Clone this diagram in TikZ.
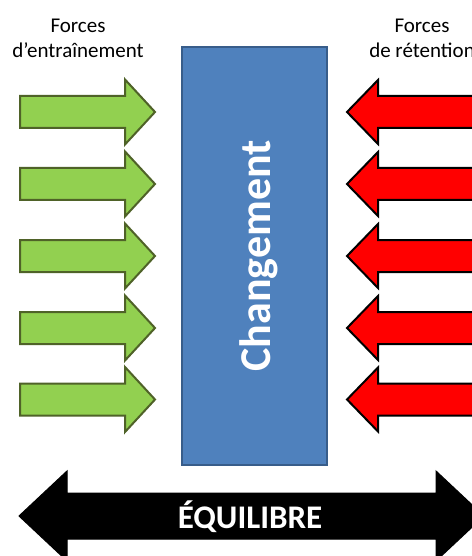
\documentclass[tikz,border=0pt]{standalone}
\usepackage{fontspec}
\setmainfont{Carlito}
\definecolor{pushfill}{HTML}{92D050}
\definecolor{pushline}{HTML}{4F6228}
\definecolor{holdfill}{HTML}{FF0000}
\definecolor{boxfill}{HTML}{4F81BD}
\definecolor{boxline}{HTML}{385D8A}
\tikzset{
  pusharrow/.style={fill=pushfill, draw=pushline, line width=2bp, line join=miter},
  holdarrow/.style={fill=holdfill, draw=black, line width=2bp, line join=miter},
  balancearrow/.style={fill=black, draw=black, line width=1bp},
  changebox/.style={fill=boxfill, draw=boxline, line width=1.5bp, minimum width=145bp, minimum height=418bp, inner sep=0pt},
  caption/.style={font=\fontsize{21bp}{25bp}\selectfont, anchor=base, inner sep=0pt},
}
\begin{document}
\begin{tikzpicture}[x=1bp, y=-1bp]
  \useasboundingbox (0,0) rectangle (472,556);
  \clip (0,0) rectangle (472,556);
  \fill[white] (0,0) rectangle (472,556);

  % central block
  \node[changebox] (change) at (254.5,256) {};
  \node[rotate=90, anchor=base, inner sep=0pt, text=white,
        font=\fontsize{44bp}{50bp}\selectfont\bfseries] (changetext) at (270,256) {Changement};

  % driving forces (left) and restraining forces (right)
  \foreach \c in {112,184,256,328,399.5} {
    \draw[pusharrow] (20,\c-16) -- (125,\c-16) -- (125,\c-32.5) -- (155,\c)
      -- (125,\c+32.5) -- (125,\c+16) -- (20,\c+16) -- cycle;
    \draw[holdarrow] (490,\c-16) -- (378,\c-16) -- (378,\c-32) -- (347,\c)
      -- (378,\c+32) -- (378,\c+16) -- (490,\c+16) -- cycle;
  }

  % captions
  \node[caption] (drive1) at (78,33) {Forces};
  \node[caption] (drive2) at (78,58) {d’entraînement};
  \node[caption] (hold1) at (422,33) {Forces};
  \node[caption] (hold2) at (422,58) {de rétention};

  % equilibrium double arrow
  \draw[balancearrow] (19,516) -- (67,471) -- (67,493) -- (436,493) -- (436,471)
    -- (484,516) -- (436,561) -- (436,539) -- (67,539) -- (67,561) -- cycle;
  \node[anchor=base, inner sep=0pt, text=white,
        font=\fontsize{33bp}{38bp}\selectfont\bfseries] (balance) at (250,528) {ÉQUILIBRE};
\end{tikzpicture}
\end{document}
